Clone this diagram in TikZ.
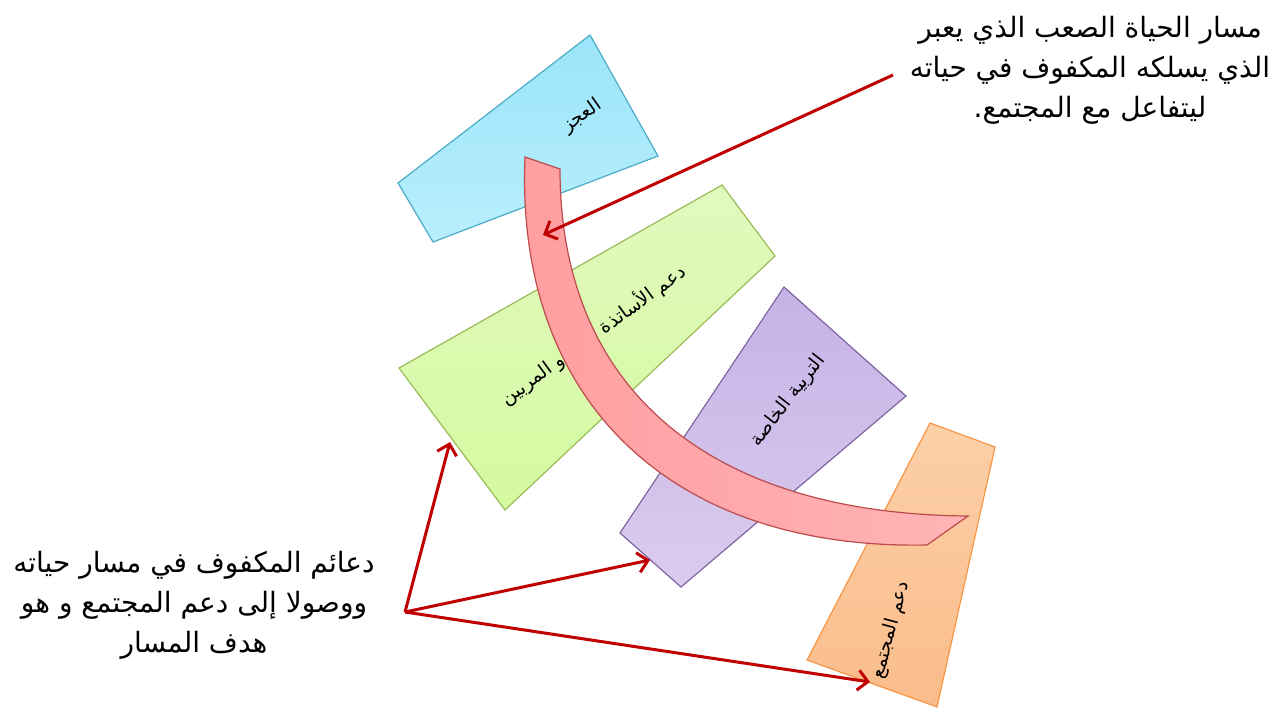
\documentclass[tikz,border=0pt]{standalone}
\usepackage{fontspec}
\usepackage{tikz}
\usetikzlibrary{arrows.meta}
\newfontfamily\arabicfont[Script=Arabic]{DejaVu Sans}
\TeXXeTstate=1
\definecolor{arrowred}{RGB}{192,0,0}
\definecolor{bandline}{RGB}{190,75,75}

\begin{document}
\begin{tikzpicture}[x=1pt,y=-1pt]
\tikzset{panel/.style={line width=1.2pt},
  lbl/.style={font=\arabicfont\fontsize{19}{22}\selectfont,inner sep=0pt},
  note/.style={font=\arabicfont\fontsize{28}{40}\selectfont,align=center,inner sep=0pt},
  pointer/.style={draw=arrowred,line width=3pt,-{Straight Barb[length=10pt,width=20pt]}}}

\useasboundingbox (0,0) rectangle (1282,713);

\draw[panel,draw={rgb,255:red,75;green,172;blue,198},top color={rgb,255:red,155;green,229;blue,250},bottom color={rgb,255:red,185;green,238;blue,252}]
  (398,183) -- (590,35) -- (658,156) -- (433,242) -- cycle;
\draw[panel,draw={rgb,255:red,155;green,187;blue,89},top color={rgb,255:red,225;green,249;blue,190},bottom color={rgb,255:red,212;green,250;blue,160}]
  (399,368) -- (722,185) -- (775,256) -- (505,510) -- cycle;
\draw[panel,draw={rgb,255:red,128;green,100;blue,162},top color={rgb,255:red,198;green,178;blue,230},bottom color={rgb,255:red,218;green,204;blue,238}]
  (620,533) -- (784,287) -- (906,396) -- (681,587) -- cycle;
\draw[panel,draw={rgb,255:red,247;green,150;blue,70},top color={rgb,255:red,252;green,208;blue,168},bottom color={rgb,255:red,250;green,188;blue,138}]
  (807,660) -- (930,423) -- (995,447) -- (937,707) -- cycle;

\path (582,116) node[lbl,rotate=35] (disab) {\beginR العجز\endR};
\path (593,335) node[lbl,rotate=36] (teach) {\beginR دعم الأساتذة\hspace{48pt}و المربين\endR};
\path (788,401) node[lbl,rotate=52] (special) {\beginR التربية الخاصة\endR};
\path (891,630) node[lbl,rotate=75] (society) {\beginR دعم المجتمع\endR};

\draw[line width=1.2pt,draw=bandline,left color={rgb,255:red,255;green,158;blue,160},right color={rgb,255:red,255;green,180;blue,182}]
  (525,157) -- (560,169) .. controls (560,390) and (710,514) .. (968,516)
  -- (927,545) .. controls (670,550) and (515,400) .. (525,157) -- cycle;

\path (1090,70) node[note] (pathnote) {\beginR مسار الحياة الصعب الذي يعبر\endR\\\beginR الذي يسلكه المكفوف في حياته\endR\\\beginR ليتفاعل مع المجتمع.\endR};
\path (194,605) node[note] (aidnote) {\beginR دعائم المكفوف في مسار حياته\endR\\\beginR ووصولا إلى دعم المجتمع و هو\endR\\\beginR هدف المسار\endR};

\path (893,75) coordinate (pathfrom);
\path (543,235) coordinate (pathto);
\path (405,612) coordinate (aidfrom);
\path (450,442) coordinate (aidteach);
\path (650,560) coordinate (aidspec);
\path (870,682) coordinate (aidsoc);

\draw[pointer] (pathfrom) -- (pathto);
\draw[pointer] (aidfrom) -- (aidteach);
\draw[pointer] (aidfrom) -- (aidspec);
\draw[pointer] (aidfrom) -- (aidsoc);
\end{tikzpicture}
\end{document}
